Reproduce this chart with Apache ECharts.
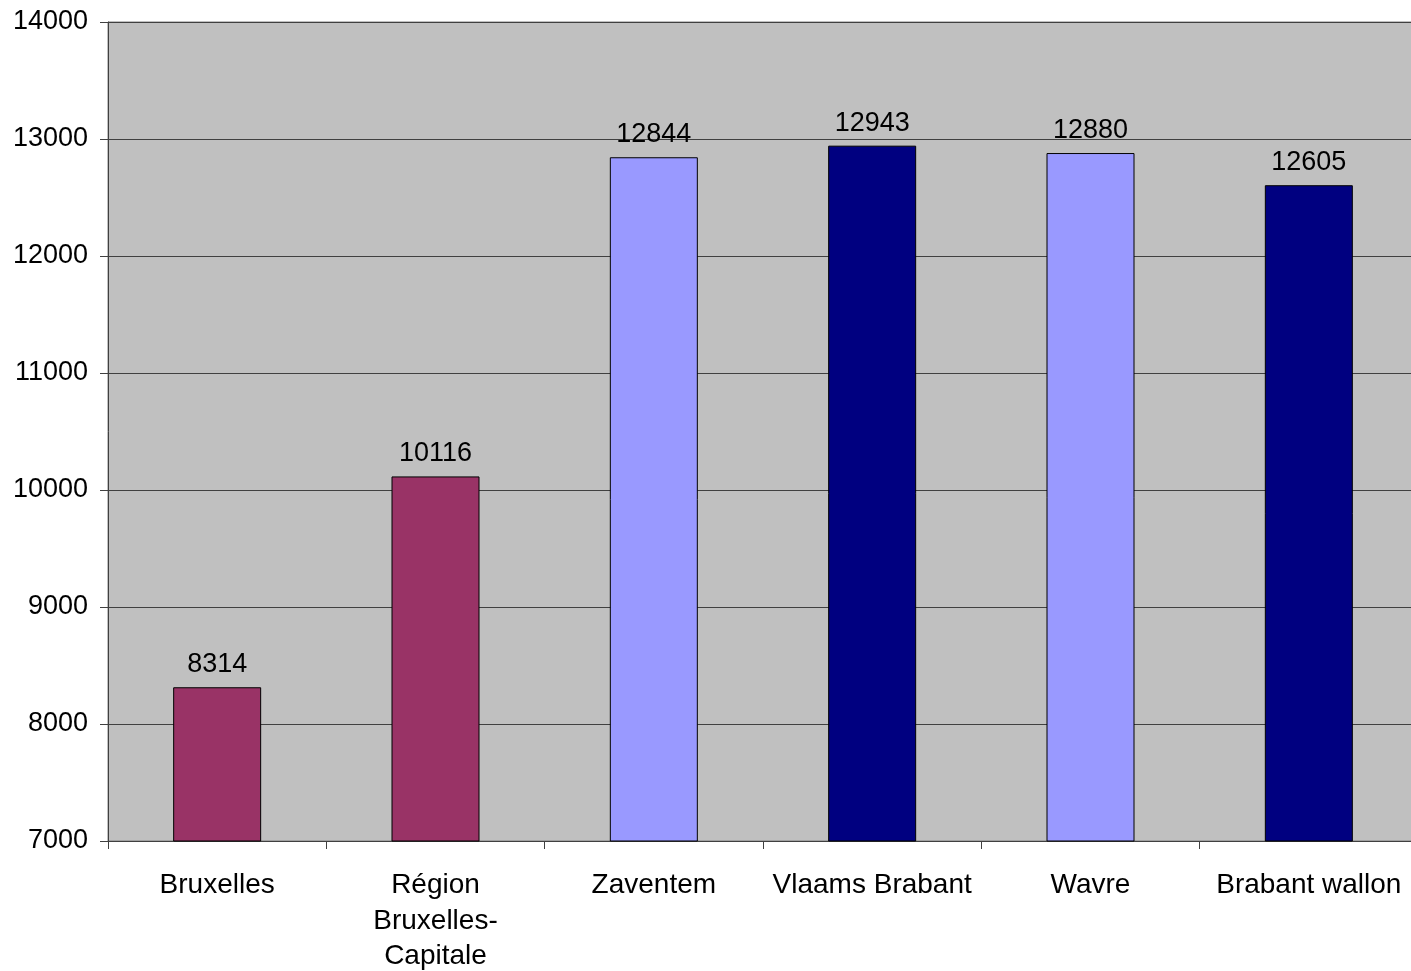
<!DOCTYPE html>
<html>
<head>
<meta charset="utf-8">
<style>
html,body{margin:0;padding:0;background:#fff;overflow:hidden;}
#c{width:1411px;height:971px;}
</style>
<script src="https://cdn.jsdelivr.net/npm/echarts@6/dist/echarts.min.js"></script>
</head>
<body>
<div id="c"></div>
<script>
const categories = ["Bruxelles", "Région\nBruxelles-\nCapitale", "Zaventem", "Vlaams Brabant", "Wavre", "Brabant wallon"];
const values = [8314, 10116, 12844, 12943, 12880, 12605];
const barColors = ["#993366", "#993366", "#9999FF", "#000080", "#9999FF", "#000080"];
const yMin = 7000, yMax = 14000, yStep = 1000;

const chart = echarts.init(document.getElementById('c'));
const font = "'Liberation Sans', Arial, sans-serif";
chart.setOption({
  animation: false,
  backgroundColor: '#ffffff',
  grid: { left: 108, top: 22, width: 1310, height: 819, show: true, backgroundColor: '#C0C0C0', borderColor: '#808080', borderWidth: 1, containLabel: false, outerBoundsMode: 'none' },
  xAxis: {
    type: 'category',
    data: categories,
    axisLine: { show: true, lineStyle: { color: '#404040', width: 1 } },
    axisTick: { show: true, length: 8, lineStyle: { color: '#404040' } },
    axisLabel: { color: '#000', fontSize: 28, fontFamily: font, margin: 27, lineHeight: 35.5, interval: 0 },
    splitLine: { show: false }
  },
  yAxis: {
    type: 'value',
    min: yMin, max: yMax, interval: yStep,
    axisLine: { show: true, lineStyle: { color: '#404040', width: 1 } },
    axisTick: { show: true, length: 8, lineStyle: { color: '#404040' } },
    axisLabel: { color: '#000', fontSize: 27, fontFamily: font, margin: 20, formatter: v => String(v) },
    splitLine: { show: true, lineStyle: { color: '#404040', width: 1 } }
  },
  series: [{
    type: 'bar',
    barWidth: 88,
    data: values.map((v, i) => ({ value: v, itemStyle: { color: barColors[i] } })),
    itemStyle: { borderColor: '#000', borderWidth: 1 },
    label: { show: true, position: 'top', distance: 9, color: '#000', fontSize: 27, fontFamily: font }
  }]
});
</script>
</body>
</html>
